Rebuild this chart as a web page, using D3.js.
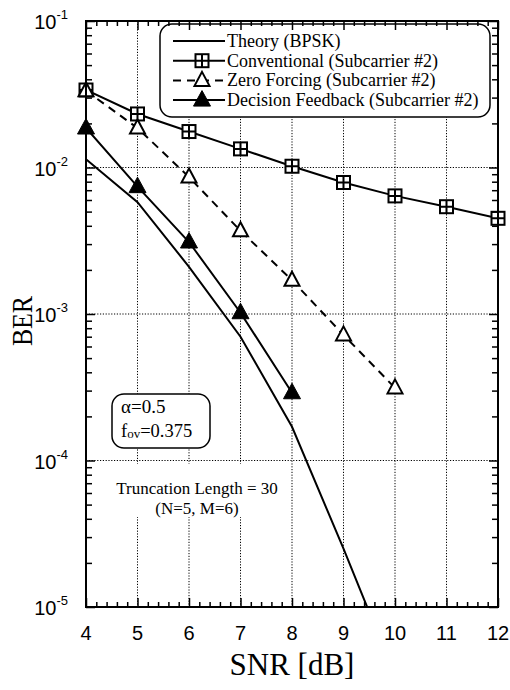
<!DOCTYPE html>
<html>
<head>
<meta charset="utf-8">
<script src="https://cdn.jsdelivr.net/npm/d3@7"></script>
<style>
  body { margin: 0; background: #fff; }
  svg { display: block; }
</style>
</head>
<body>
<svg id="chart" width="510" height="690"></svg>
<script>
// SNR grid (dB)
const snr = [4, 5, 6, 7, 8, 9, 10, 11, 12];
// BER curves
const theoryBPSK       = [0.0114, 0.0058, 0.0021, 0.0007, 0.00017, 0.000025, 0.0000034];
const conventional     = [0.0338, 0.0232, 0.0176, 0.0134, 0.0102, 0.0079, 0.0064, 0.0054, 0.0045];
const zeroForcing      = [0.0334, 0.0186, 0.0086, 0.0037, 0.0017, 0.00072, 0.000313];
const decisionFeedback = [0.0186, 0.0074, 0.0031, 0.00102, 0.00029];
// axis ticks
const xTicks = [4, 5, 6, 7, 8, 9, 10, 11, 12];
const yExponents = [-1, -2, -3, -4, -5];
const legendLabels = [
  "Theory (BPSK)",
  "Conventional (Subcarrier #2)",
  "Zero Forcing (Subcarrier #2)",
  "Decision Feedback (Subcarrier #2)"
];

const svg = d3.select("#chart");
const L = 86, R = 498, T = 21, B = 607;
const serif = "'Liberation Serif', 'Times New Roman', serif";
const sans = "'Liberation Sans', Arial, sans-serif";

const x = d3.scaleLinear().domain([4, 12]).range([L, R]);
const y = d3.scaleLog().domain([1e-5, 1e-1]).range([B, T]);

const majorY = yExponents.map(e => Math.pow(10, e));
const minorY = [];
yExponents.slice(1).forEach(e => { for (let m = 2; m <= 9; m++) minorY.push(m * Math.pow(10, e)); });
const minorX = [];
xTicks.slice(0, -1).forEach(v => { for (let k = 1; k <= 4; k++) minorX.push(+(v + k * 0.2).toFixed(1)); });

// dotted grid
const grid = svg.append("g").attr("stroke", "#000").attr("stroke-width", 1).attr("stroke-dasharray", "1.2,1.6");
grid.selectAll(".gx").data(xTicks.slice(1, -1)).join("line")
  .attr("x1", d => x(d)).attr("x2", d => x(d)).attr("y1", T).attr("y2", B);
grid.selectAll(".gy").data(majorY.slice(1, -1)).join("line")
  .attr("x1", L).attr("x2", R).attr("y1", d => y(d)).attr("y2", d => y(d));

// white label panels over the grid
svg.append("rect").attr("x", 110).attr("y", 464).attr("width", 176).attr("height", 53).attr("fill", "#fff");
svg.append("rect").attr("x", 112).attr("y", 394).attr("width", 98).attr("height", 54).attr("rx", 12)
  .attr("fill", "#fff").attr("stroke", "#000").attr("stroke-width", 1.5);

// annotation text
const ann = svg.append("g").attr("font-family", serif).attr("fill", "#000");
ann.append("text").attr("x", 121).attr("y", 413).attr("font-size", 19).text("α=0.5");
const fov = ann.append("text").attr("x", 121).attr("y", 437).attr("font-size", 18.5);
fov.append("tspan").text("f");
fov.append("tspan").attr("font-size", 13).attr("dy", 1).text("ov");
fov.append("tspan").attr("dy", -1).text("=0.375");
ann.append("text").attr("x", 197).attr("y", 494).attr("font-size", 17).attr("text-anchor", "middle").text("Truncation Length = 30");
ann.append("text").attr("x", 197).attr("y", 514).attr("font-size", 17).attr("text-anchor", "middle").text("(N=5, M=6)");

// legend panel
svg.append("rect").attr("x", 160).attr("y", 24).attr("width", 330).attr("height", 93).attr("rx", 12)
  .attr("fill", "#fff").attr("stroke", "#000").attr("stroke-width", 1.5);

// data
const clip = svg.append("clipPath").attr("id", "plotClip");
clip.append("rect").attr("x", L).attr("y", T).attr("width", R - L).attr("height", B - T);
const plot = svg.append("g").attr("clip-path", "url(#plotClip)");

const line = d3.line().x(d => x(d[0])).y(d => y(d[1]));
const pairs = vals => vals.map((v, i) => [snr[i], v]);

const series = [
  { vals: theoryBPSK, dash: null, marker: null },
  { vals: conventional, dash: null, marker: "square" },
  { vals: zeroForcing, dash: "8,6", marker: "open" },
  { vals: decisionFeedback, dash: null, marker: "filled" }
];

const triOpen = "M0,-8.5L7.5,5.5L-7.5,5.5Z";
const triFilled = "M0,-9.5L8.5,6L-8.5,6Z";

function drawMarker(g, type, cx, cy) {
  const m = g.append("g").attr("transform", `translate(${cx},${cy})`);
  if (type === "square") {
    m.append("rect").attr("x", -6.5).attr("y", -6.5).attr("width", 13).attr("height", 13)
      .attr("fill", "#fff").attr("stroke", "#000").attr("stroke-width", 2);
    m.append("path").attr("d", "M-6.5,0H6.5M0,-6.5V6.5").attr("stroke", "#000").attr("stroke-width", 2);
  } else if (type === "open") {
    m.append("path").attr("d", triOpen).attr("fill", "#fff").attr("stroke", "#000").attr("stroke-width", 2);
  } else if (type === "filled") {
    m.append("path").attr("d", triFilled).attr("fill", "#000").attr("stroke", "#000").attr("stroke-width", 1);
  }
}

series.forEach(s => {
  plot.append("path").datum(pairs(s.vals)).attr("d", line)
    .attr("fill", "none").attr("stroke", "#000").attr("stroke-width", 2)
    .attr("stroke-dasharray", s.dash);
});
series.forEach(s => {
  if (!s.marker) return;
  const g = svg.append("g");
  pairs(s.vals).forEach(p => drawMarker(g, s.marker, x(p[0]), y(p[1])));
});

// legend entries
const leg = svg.append("g");
legendLabels.forEach((label, i) => {
  const cy = 41 + i * 19.7;
  const s = series[i];
  leg.append("line").attr("x1", 173).attr("x2", 225).attr("y1", cy).attr("y2", cy)
    .attr("stroke", "#000").attr("stroke-width", 2).attr("stroke-dasharray", s.dash);
  if (s.marker) drawMarker(leg, s.marker, 202, cy);
  leg.append("text").attr("x", 227).attr("y", cy + 6).attr("font-family", serif).attr("font-size", 18)
    .attr("fill", "#000").text(label);
});

// axes frame with inward ticks
function styleAxis(g) {
  g.select(".domain").remove();
  g.selectAll("line").attr("stroke", "#000").attr("stroke-width", 1.5);
  g.selectAll("text").remove();
}
svg.append("g").attr("transform", `translate(0,${B})`)
  .call(d3.axisBottom(x).tickValues(xTicks).tickSize(-9)).call(styleAxis);
svg.append("g").attr("transform", `translate(0,${B})`)
  .call(d3.axisBottom(x).tickValues(minorX).tickSize(-5)).call(styleAxis);
svg.append("g").attr("transform", `translate(0,${T})`)
  .call(d3.axisTop(x).tickValues(xTicks).tickSize(-9)).call(styleAxis);
svg.append("g").attr("transform", `translate(0,${T})`)
  .call(d3.axisTop(x).tickValues(minorX).tickSize(-5)).call(styleAxis);
svg.append("g").attr("transform", `translate(${L},0)`)
  .call(d3.axisLeft(y).tickValues(majorY).tickSize(-9)).call(styleAxis);
svg.append("g").attr("transform", `translate(${L},0)`)
  .call(d3.axisLeft(y).tickValues(minorY).tickSize(-6)).call(styleAxis);
svg.append("g").attr("transform", `translate(${R},0)`)
  .call(d3.axisRight(y).tickValues(majorY).tickSize(-9)).call(styleAxis);
svg.append("g").attr("transform", `translate(${R},0)`)
  .call(d3.axisRight(y).tickValues(minorY).tickSize(-6)).call(styleAxis);

svg.append("rect").attr("x", L).attr("y", T).attr("width", R - L).attr("height", B - T)
  .attr("fill", "none").attr("stroke", "#000").attr("stroke-width", 2);

// tick labels
const xl = svg.append("g").attr("font-family", sans).attr("font-size", 20).attr("fill", "#000");
xl.selectAll("text").data(xTicks).join("text")
  .attr("x", d => x(d)).attr("y", 640).attr("text-anchor", "middle").text(d => d);

const yl = svg.append("g").attr("font-family", sans).attr("fill", "#000");
yExponents.forEach(e => {
  const t = yl.append("text").attr("x", 68).attr("y", y(Math.pow(10, e)) + 8).attr("text-anchor", "end");
  t.append("tspan").attr("font-size", 20).text("10");
  t.append("tspan").attr("font-size", 13).attr("dy", -10).text(String(e));
});

// axis titles
svg.append("text").attr("x", (L + R) / 2).attr("y", 675).attr("text-anchor", "middle")
  .attr("font-family", serif).attr("font-size", 31).attr("fill", "#000").text("SNR [dB]");
svg.append("text").attr("transform", "translate(32,321) rotate(-90) scale(0.86,1)")
  .attr("text-anchor", "middle").attr("font-family", serif).attr("font-size", 30).attr("fill", "#000").text("BER");
</script>
</body>
</html>
